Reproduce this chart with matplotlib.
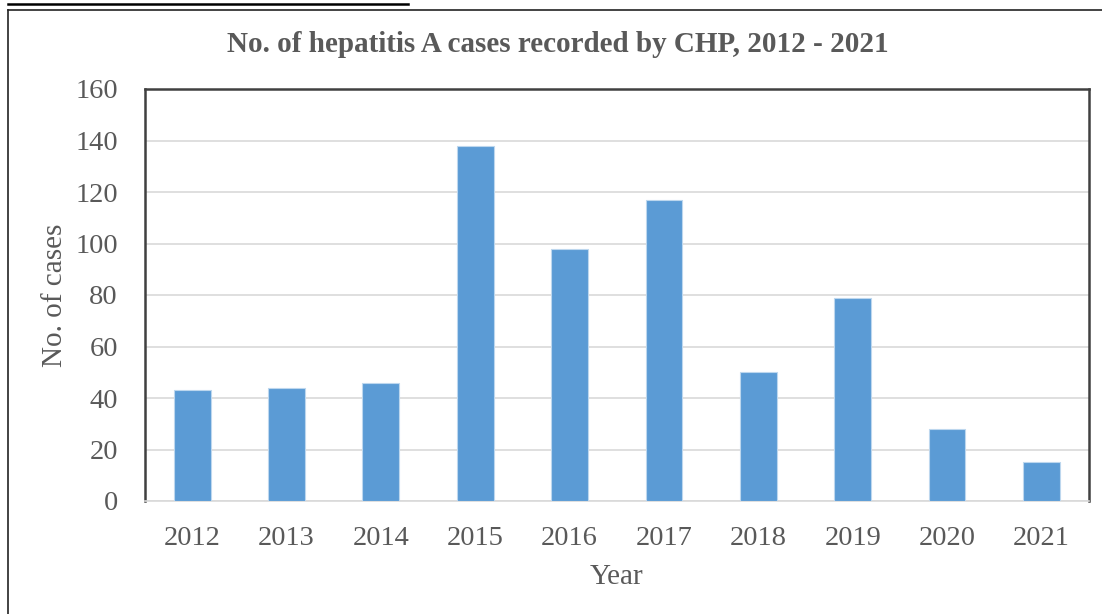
"""plot.py - hepatitis A cases recorded by CHP, 2012 - 2021 (bar chart)"""

import matplotlib
matplotlib.use("Agg")
import matplotlib.pyplot as plt
from matplotlib.lines import Line2D

#------------------------------------------------------------------------------
#--- (0) Data
#------------------------------------------------------------------------------
years = ["2012", "2013", "2014", "2015", "2016", "2017", "2018", "2019", "2020", "2021"]
cases = [43, 44, 46, 138, 98, 117, 50, 79, 28, 15]
y_ticks = [0, 20, 40, 60, 80, 100, 120, 140, 160]

TITLE = "No. of hepatitis A cases recorded by CHP, 2012 - 2021"
BAR_COLOUR = "#5B9BD5"
TEXT_COLOUR = "#595959"
GRID_COLOUR = "#D9D9D9"

plt.rcParams["font.family"] = ["Liberation Serif", "DejaVu Serif"]

#------------------------------------------------------------------------------
#--- (1) Figure and axes
#------------------------------------------------------------------------------
W, H = 1102, 614
fig = plt.figure(figsize=(W / 100, H / 100), dpi=100)
ax = fig.add_axes([145 / W, 1 - 501 / H, (1088.5 - 145) / W, (501 - 89) / H])

x = range(len(years))
ax.bar(x, cases, width=0.39, color=BAR_COLOUR, edgecolor="#BDD7EE", linewidth=0.8, zorder=3)

ax.set_xlim(-0.5, len(years) - 0.5)
ax.set_ylim(0, 160)
ax.set_yticks(y_ticks)
ax.set_xticks(list(x))
ax.set_xticklabels(years)
ax.tick_params(axis="both", length=0, labelsize=20.5, colors=TEXT_COLOUR)
ax.tick_params(axis="y", pad=19.5)
ax.tick_params(axis="x", pad=18)
ax.grid(axis="y", color=GRID_COLOUR, linewidth=1.2, zorder=0)

for side in ["left", "top", "right"]:
    ax.spines[side].set_color("#404040")
    ax.spines[side].set_linewidth(1.8)
ax.spines["bottom"].set_color(GRID_COLOUR)
ax.spines["bottom"].set_linewidth(1.2)

ax.set_ylabel("No. of cases", fontsize=21, color=TEXT_COLOUR, labelpad=5)
ax.set_xlabel("Year", fontsize=21, color=TEXT_COLOUR, labelpad=9)

fig.text(558 / W, 1 - 45 / H, TITLE, fontsize=21, fontweight="bold",
         color=TEXT_COLOUR, ha="center", va="center")

#------------------------------------------------------------------------------
#--- (2) Document frame around the chart
#------------------------------------------------------------------------------
fig.add_artist(Line2D([8 / W, 408 / W], [1 - 3.5 / H, 1 - 3.5 / H], color="black", linewidth=1.8))
fig.add_artist(Line2D([8 / W, 1], [1 - 9.5 / H, 1 - 9.5 / H], color="#222222", linewidth=1.2))
fig.add_artist(Line2D([8 / W, 8 / W], [0, 1 - 9.5 / H], color="#222222", linewidth=1.2))

fig.savefig("out.png", dpi=100)
